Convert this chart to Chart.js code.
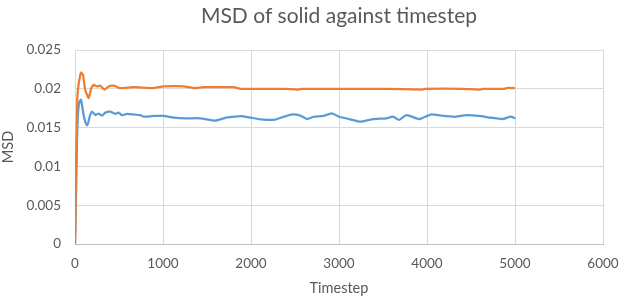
<!DOCTYPE html>
<html>
<head>
<meta charset="utf-8">
<script src="https://cdn.jsdelivr.net/npm/chart.js@4"></script>
<style>
  html, body { margin: 0; padding: 0; background: #fff; }
  #wrap { width: 626px; height: 301px; position: relative; }
</style>
</head>
<body>
<div id="wrap"><canvas id="msdChart"></canvas></div>
<script>
// Data
const blueSteps = [0, 5, 15, 22, 35, 50, 68, 80, 98, 118, 136, 150, 166, 193, 231, 270, 307, 345, 401, 458, 496, 534, 591, 660, 742, 780, 894, 1007, 1121, 1272, 1424, 1594, 1689, 1802, 1884, 1997, 2110, 2260, 2373, 2467, 2561, 2636, 2711, 2824, 2918, 3013, 3126, 3239, 3389, 3539, 3615, 3683, 3766, 3916, 4048, 4180, 4330, 4443, 4594, 4707, 4857, 4951, 5004];
const blueMsd = [0, 0.003, 0.008, 0.013, 0.017, 0.0183, 0.0186, 0.0179, 0.0166, 0.0157, 0.0153, 0.0156, 0.0164, 0.01705, 0.01662, 0.0168, 0.01654, 0.01693, 0.01705, 0.01677, 0.01693, 0.0166, 0.01677, 0.0167, 0.0166, 0.0164, 0.0165, 0.0165, 0.0163, 0.0162, 0.0162, 0.0159, 0.0162, 0.0164, 0.01649, 0.01628, 0.01607, 0.016, 0.0164, 0.01671, 0.01655, 0.0161, 0.0164, 0.0165, 0.01684, 0.01636, 0.01607, 0.01576, 0.0161, 0.0162, 0.0164, 0.016, 0.0166, 0.0161, 0.0167, 0.0165, 0.0164, 0.0166, 0.0165, 0.0163, 0.0161, 0.0164, 0.0162];

const orangeSteps = [0, 5, 8, 15, 26, 40, 55, 68, 91, 117, 155, 185, 212, 250, 288, 333, 382, 439, 508, 667, 894, 1007, 1235, 1348, 1462, 1802, 1880, 1992, 2400, 2540, 2580, 3000, 3500, 3950, 3980, 4400, 4610, 4640, 4880, 4900, 5000];
const orangeMsd = [0, 0.002, 0.008, 0.012, 0.0186, 0.0205, 0.0215, 0.0221, 0.0218, 0.0198, 0.0188, 0.0201, 0.0205, 0.0203, 0.0204, 0.0199, 0.0203, 0.0204, 0.0201, 0.0202, 0.0201, 0.0203, 0.0203, 0.0201, 0.0202, 0.0202, 0.02, 0.02, 0.02, 0.0199, 0.02, 0.02, 0.02, 0.0199, 0.02, 0.02, 0.0199, 0.02, 0.02, 0.0201, 0.0201];

const xTicks = [0, 1000, 2000, 3000, 4000, 5000, 6000];
const yTicks = [0, 0.005, 0.01, 0.015, 0.02, 0.025];

const TEXT = '#595959';
const GRID = '#d9d9d9';
const FONT = 'Lato, "Open Sans", sans-serif';

const toPoints = (xs, ys) => xs.map((x, i) => ({ x, y: ys[i] }));

// draws the title centred over the plot area, like Excel does
const plotTitle = {
    id: 'plotTitle',
    afterDraw(chart) {
        const { ctx, chartArea } = chart;
        ctx.save();
        ctx.font = '21px ' + FONT;
        ctx.fillStyle = TEXT;
        ctx.textAlign = 'center';
        ctx.textBaseline = 'middle';
        ctx.fillText('MSD of solid against timestep', (chartArea.left + chartArea.right) / 2, 16);
        ctx.restore();
    }
};

new Chart(document.getElementById('msdChart'), {
    type: 'scatter',
    data: {
        datasets: [
            {
                label: 'Series1',
                data: toPoints(blueSteps, blueMsd),
                borderColor: '#5B9BD5',
                showLine: true,
                borderWidth: 2.25,
                pointRadius: 0,
                tension: 0.15,
                order: 2
            },
            {
                label: 'Series2',
                data: toPoints(orangeSteps, orangeMsd),
                borderColor: '#ED7D31',
                showLine: true,
                borderWidth: 2.25,
                pointRadius: 0,
                tension: 0.15,
                order: 1
            }
        ]
    },
    options: {
        responsive: true,
        maintainAspectRatio: false,
        animation: false,
        layout: { padding: { top: 50, right: 23, bottom: 0, left: 0 } },
        plugins: {
            legend: { display: false },
            tooltip: { enabled: false }
        },
        scales: {
            x: {
                type: 'linear',
                min: xTicks[0],
                max: xTicks[xTicks.length - 1],
                afterBuildTicks: (s) => { s.ticks = xTicks.map(v => ({ value: v })); },
                afterFit: (s) => { s.height = 57; s.paddingLeft = 0; s.paddingRight = 0; },
                grid: { color: GRID, drawTicks: false },
                border: { color: '#bfbfbf' },
                ticks: { color: TEXT, font: { family: FONT, size: 13.5 }, padding: 12, callback: (v) => String(v) },
                title: { display: true, text: 'Timestep', color: TEXT, font: { family: FONT, size: 14.5 }, padding: { top: 6 } }
            },
            y: {
                min: yTicks[0],
                max: yTicks[yTicks.length - 1],
                afterBuildTicks: (s) => { s.ticks = yTicks.map(v => ({ value: v })); },
                afterFit: (s) => { s.width = 75; s.paddingTop = 0; s.paddingBottom = 0; },
                grid: { color: GRID, drawTicks: false },
                border: { display: false },
                ticks: {
                    color: TEXT,
                    font: { family: FONT, size: 13.5 },
                    padding: 14,
                    callback: (v) => String(parseFloat(v.toFixed(3)))
                },
                title: { display: true, text: 'MSD', color: TEXT, font: { family: FONT, size: 14.5 }, padding: 0 }
            }
        }
    },
    plugins: [plotTitle]
});
</script>
</body>
</html>
